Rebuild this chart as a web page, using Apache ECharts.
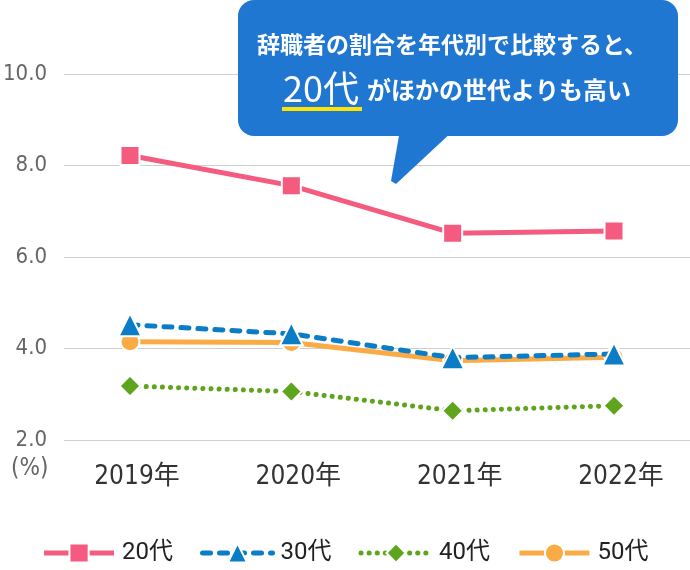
<!DOCTYPE html>
<html lang="ja">
<head>
    <meta charset="UTF-8">
    <title>辞職者の割合</title>
    <script src="https://cdn.jsdelivr.net/npm/echarts@6/dist/echarts.min.js"></script>
    <style>
        html, body { margin: 0; padding: 0; background: #fff; }
        #main { width: 690px; height: 570px; }
    </style>
</head>
<body>
<div id="main"></div>
<script>
    // データ
    var years = ['2019年', '2020年', '2021年', '2022年'];
    var yTicks = [2, 4, 6, 8, 10];
    var age20 = [8.22, 7.56, 6.52, 6.57];
    var age30 = [4.52, 4.32, 3.8, 3.88];
    var age40 = [3.18, 3.06, 2.64, 2.75];
    var age50 = [4.15, 4.13, 3.73, 3.81];

    var numFont = "'DejaVu Sans Condensed', 'Liberation Sans Narrow', 'Noto Sans CJK JP', sans-serif";
    var jpFont = "'Noto Sans CJK JP', sans-serif";

    var myChart = echarts.init(document.getElementById('main'));

    var option = {
        animation: false,
        textStyle: { fontFamily: jpFont },
        grid: [
            // 折れ線用（両端の点が2019年・2022年）
            { left: 130, right: 76, top: 74, height: 366 },
            // 目盛線用
            { left: 64, right: 0, top: 74, height: 366 }
        ],
        xAxis: [
            {
                type: 'category',
                gridIndex: 0,
                data: years,
                boundaryGap: false,
                axisLine: { show: false },
                axisTick: { show: false },
                splitLine: { show: false },
                axisLabel: {
                    margin: 24,
                    padding: [0, 0, 0, 14],
                    fontSize: 26,
                    color: '#333',
                    fontFamily: numFont
                }
            },
            { type: 'category', gridIndex: 1, show: false, data: years }
        ],
        yAxis: [
            { type: 'value', gridIndex: 0, min: yTicks[0], max: yTicks[yTicks.length - 1], show: false },
            {
                type: 'value',
                gridIndex: 1,
                min: yTicks[0],
                max: yTicks[yTicks.length - 1],
                interval: 2,
                axisLine: { show: false },
                axisTick: { show: false },
                splitLine: { lineStyle: { color: '#cfcfcf', width: 1 } },
                axisLabel: {
                    margin: 17,
                    fontSize: 22,
                    color: '#666',
                    fontFamily: numFont,
                    formatter: function (v) { return v.toFixed(1); }
                }
            }
        ],
        legend: {
            bottom: 0,
            left: 'center',
            itemWidth: 70,
            itemHeight: 24,
            itemGap: 27,
            data: ['20代', '30代', '40代', '50代'],
            lineStyle: { width: 'inherit' },
            textStyle: { fontSize: 24, color: '#222', fontFamily: "Roboto, 'Noto Sans CJK JP', sans-serif", padding: [0, 0, 0, 3] }
        },
        series: [
            {
                name: '20代',
                type: 'line',
                data: age20,
                symbol: 'rect',
                symbolSize: 19,
                lineStyle: { color: '#f45b7e', width: 5 },
                itemStyle: { color: '#f45b7e', borderColor: '#fff', borderWidth: 2 }
            },
            {
                name: '30代',
                type: 'line',
                data: age30,
                z: 4,
                symbol: 'triangle',
                symbolSize: 23,
                lineStyle: { color: '#0b7dc6', width: 5, type: [8, 9], cap: 'round' },
                itemStyle: { color: '#0b7dc6', borderColor: '#fff', borderWidth: 2 }
            },
            {
                name: '40代',
                type: 'line',
                data: age40,
                symbol: 'diamond',
                symbolSize: 21,
                lineStyle: { color: '#5ea51d', width: 5, type: [0.1, 8], cap: 'round' },
                itemStyle: { color: '#5ea51d', borderColor: '#fff', borderWidth: 2 }
            },
            {
                name: '50代',
                type: 'line',
                data: age50,
                symbol: 'circle',
                symbolSize: 19,
                lineStyle: { color: '#fbab45', width: 5 },
                itemStyle: { color: '#fbab45', borderColor: '#fff', borderWidth: 2 }
            }
        ],
        graphic: [
            {
                type: 'text',
                left: 11,
                top: 457,
                style: { text: '(%)', fontSize: 24, fill: '#666', fontFamily: numFont }
            },
            // 吹き出し
            {
                type: 'polygon',
                z: 10,
                shape: { points: [[400, 130], [454, 130], [396, 184], [391, 181]] },
                style: { fill: '#1f77d2' }
            },
            {
                type: 'rect',
                z: 10,
                shape: { x: 238, y: 0, width: 440, height: 136, r: 16 },
                style: { fill: '#1f77d2' }
            },
            {
                type: 'text',
                z: 11,
                x: 452,
                y: 44,
                style: {
                    text: '辞職者の割合を年代別で比較すると、',
                    fontSize: 23,
                    fontWeight: 'bold',
                    fill: '#fff',
                    fontFamily: jpFont,
                    align: 'center',
                    verticalAlign: 'middle'
                }
            },
            {
                type: 'text',
                z: 11,
                x: 283,
                y: 88,
                style: {
                    text: '20代',
                    fontSize: 36,
                    fill: '#fff',
                    fontFamily: jpFont,
                    align: 'left',
                    verticalAlign: 'middle'
                }
            },
            {
                type: 'rect',
                z: 11,
                shape: { x: 282, y: 107, width: 80, height: 4 },
                style: { fill: '#ffe400' }
            },
            {
                type: 'text',
                z: 11,
                x: 367,
                y: 90,
                style: {
                    text: 'がほかの世代よりも高い',
                    fontSize: 24,
                    fontWeight: 'bold',
                    fill: '#fff',
                    fontFamily: jpFont,
                    align: 'left',
                    verticalAlign: 'middle'
                }
            }
        ]
    };

    myChart.setOption(option);
</script>
</body>
</html>
